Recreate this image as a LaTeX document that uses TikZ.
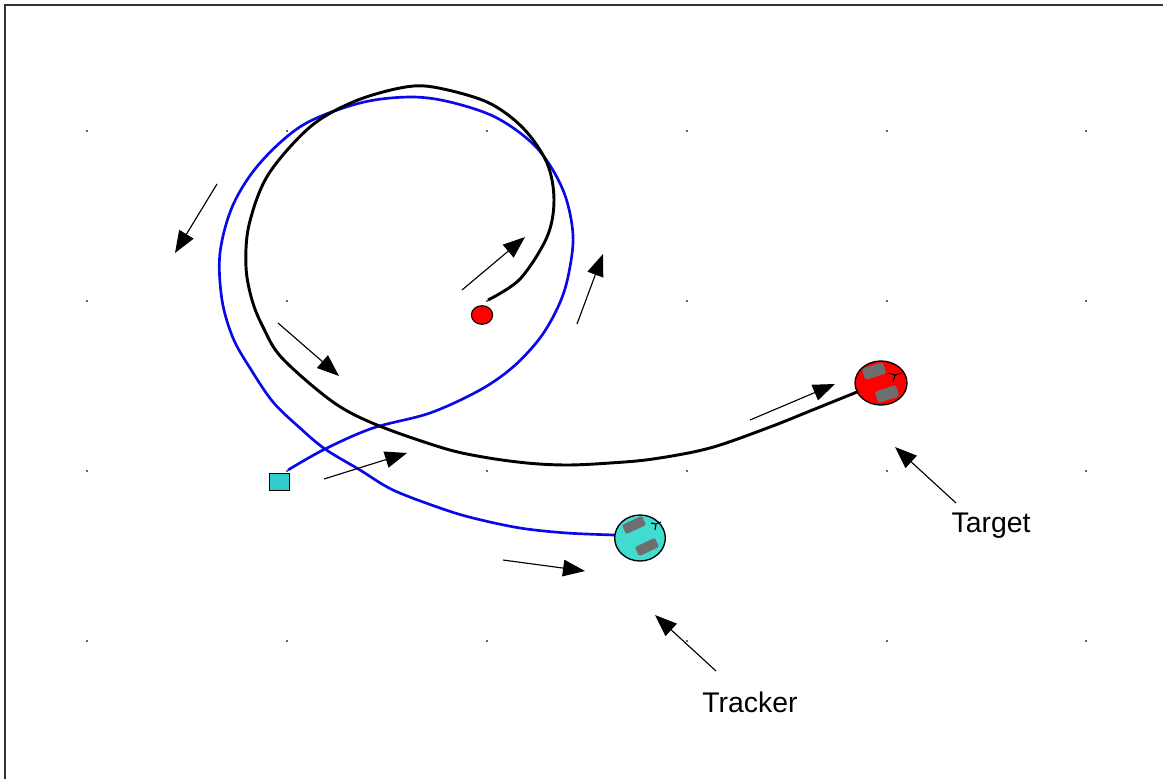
\documentclass[tikz,border=0pt]{standalone}
\usepackage{fontspec}
\setmainfont{Liberation Sans}
\usetikzlibrary{arrows.meta,shapes.geometric}
\definecolor{teal1}{HTML}{33CCCC}
\definecolor{teal2}{HTML}{40DCCF}
\definecolor{wheelgray}{HTML}{6E6E6E}
\definecolor{pathblue}{HTML}{0808E8}
\tikzset{
  x=0.75pt,y=-0.75pt,
  motion/.style={draw=black,line width=0.85pt,-{Triangle[length=16.5pt,width=12.5pt]}},
  robotbody/.style={ellipse,draw=black,line width=1pt,inner sep=0pt},
  wheel/.style={fill=wheelgray,rounded corners=1.5pt},
  griddot/.style={fill=black!60,inner sep=0pt,minimum size=1.2pt,rectangle},
  caption/.style={font=\fontsize{21.3pt}{25pt}\selectfont,inner sep=0pt},
}
\begin{document}
\begin{tikzpicture}
\useasboundingbox (0,0) rectangle (1163,779);
\fill[white] (0,0) rectangle (1163,779);
% frame
\draw[line width=1.3pt,black!80] (5,779) -- (5,5) -- (1163,5);
% grid dots
\foreach \gx in {87,287,487,687,887,1086}
  \foreach \gy in {131,301,471,641}
    \node[griddot] at (\gx,\gy) {};
% trajectories
\draw[pathblue,line width=2pt,smooth,line join=round] plot[tension=0.55] coordinates {
 (288,470) (325,449) (373,428) (430,413) (480,390) (513,367) (540,338) (558,307)
 (568,277) (573,235) (563,190) (537,148) (497,118) (450,102) (410,97) (360,103)
 (303,125) (260,163) (233,205) (220,253) (222,300) (233,338) (250,368) (273,402)
 (300,428) (325,449) (360,470) (393,490) (440,508) (473,518) (520,528) (567,533) (615,535)};
\draw[black,line width=2.2pt,smooth,line join=round] plot[tension=0.55] coordinates {
 (488,300) (520,279) (547,237) (554,200) (547,163) (523,128) (487,102) (433,87)
 (400,88) (353,102) (310,127) (268,175) (249,225) (246,267) (252,300) (263,327)
 (282,358) (333,402) (377,425) (443,448) (483,457) (527,463) (567,465) (610,463)
 (653,459) (710,448) (770,427) (810,411) (857,392)};
% start markers
\node[ellipse,draw=black,line width=0.8pt,fill=red,minimum width=16pt,minimum height=14pt,inner sep=0pt] (goal) at (482,315) {};
\node[rectangle,draw=black,line width=1pt,fill=teal1,minimum width=15pt,minimum height=13pt,inner sep=0pt] (start) at (279.5,482) {};
% tracker
\node[robotbody,fill=teal2,minimum width=38pt,minimum height=34.5pt] (tracker) at (640,538) {};
\fill[wheel,rotate around={25:(634,525)}] (623,520) rectangle (645,530);
\fill[wheel,rotate around={25:(647,547)}] (636,542) rectangle (658,552);
\draw[black,line width=0.8pt] (651,523) -- (656,524) -- (661,522) (656,524) -- (655,530);
% target
\node[robotbody,fill=red,minimum width=39pt,minimum height=33pt] (target) at (881,383) {};
\fill[wheel,rotate around={18:(874,371)}] (863,365) rectangle (885,377);
\fill[wheel,rotate around={18:(887,394)}] (876,388) rectangle (898,400);
\draw[black,line width=0.8pt] (888,373) -- (895,375) -- (902,373) (895,375) -- (893,382);
% free arrow ends
\coordinate (a1s) at (217,184); \coordinate (a1e) at (175,253);
\coordinate (a2s) at (462,290); \coordinate (a2e) at (525,237);
\coordinate (a3s) at (577,324); \coordinate (a3e) at (603,254);
\coordinate (a4s) at (278,323); \coordinate (a4e) at (339,376);
\coordinate (a5s) at (750,420); \coordinate (a5e) at (835,384);
\coordinate (a6s) at (324,479); \coordinate (a6e) at (407,453);
\coordinate (a7s) at (503,560); \coordinate (a7e) at (585,571);
\coordinate (a8s) at (956,503); \coordinate (a8e) at (895,447);
\coordinate (a9s) at (716,671); \coordinate (a9e) at (655,615);
\foreach \i in {1,...,9} \draw[motion] (a\i s) -- (a\i e);
% labels
\node[caption] (targetlabel) at (991,526) {Target};
\node[caption] (trackerlabel) at (750,702) {Tracker};
\end{tikzpicture}
\end{document}
